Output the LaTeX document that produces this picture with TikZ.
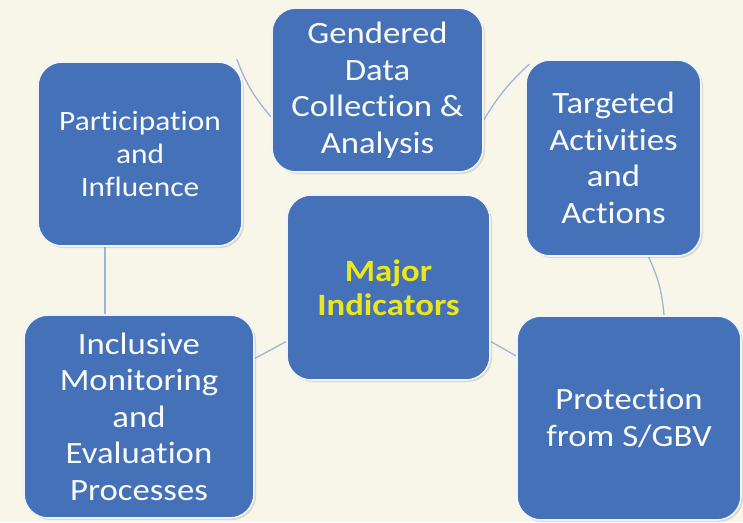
\documentclass[tikz,border=0pt]{standalone}
\usepackage{fontspec}
\setmainfont{Carlito}[Ligatures={NoCommon}, FakeStretch=1.12]
\usetikzlibrary{shadows,backgrounds}
\definecolor{bgcream}{RGB}{248,246,232}
\definecolor{boxblue}{RGB}{69,113,184}
\definecolor{connblue}{RGB}{158,180,216}
\definecolor{txtwhite}{RGB}{250,250,250}
\definecolor{majyellow}{RGB}{236,230,28}
\tikzset{
  box/.style={rectangle, rounded corners=24pt, fill=boxblue, draw=white!92!boxblue,
    line width=1.6pt, text=txtwhite, align=center,
    font=\fontsize{31pt}{36.5pt}\selectfont,
    drop shadow={shadow xshift=2pt, shadow yshift=-2pt, opacity=0.25}},
  conn/.style={draw=connblue, line width=1.3pt},
}
\begin{document}
\begin{tikzpicture}[x=1pt,y=-1pt]
\useasboundingbox (0,0) rectangle (743,522);
\node[box, minimum width=211pt, minimum height=164pt] (gen) at (377.5,90)
  {Gendered\\Data\\Collection \&\\Analysis};
\node[box, minimum width=204pt, minimum height=184pt,
  font=\fontsize{28pt}{33pt}\selectfont] (par) at (140,154)
  {Participation\\and\\Influence};
\node[box, minimum width=175pt, minimum height=196pt] (tar) at (613.5,158)
  {Targeted\\Activities\\and\\Actions};
\node[box, minimum width=203pt, minimum height=185pt, text=majyellow,
  font=\fontsize{31pt}{34pt}\selectfont\bfseries] (maj) at (388.5,287.5)
  {Major\\Indicators};
\node[box, minimum width=230pt, minimum height=203pt] (inc) at (139,416.5)
  {Inclusive\\Monitoring\\and\\Evaluation\\Processes};
\node[box, minimum width=224pt, minimum height=204pt] (pro) at (629,418)
  {Protection\\from S/GBV};
\begin{pgfonlayer}{background}
  \fill[bgcream] (0,0) rectangle (743,522);
  \draw[conn] ([xshift=-6pt,yshift=2pt]par.north east) to[bend right=10] ([yshift=-27pt]gen.west);
  \draw[conn] ([yshift=-30pt]gen.east) to[bend left=8] ([xshift=4pt,yshift=-5pt]tar.north west);
  \draw[conn] ([xshift=-35pt]par.south) -- ([xshift=-34pt]inc.north);
  \draw[conn] ([xshift=35pt]tar.south) to[bend left=10] ([xshift=35pt]pro.north);
  \draw[conn] ([yshift=-54pt]maj.west) -- ([yshift=58pt]inc.east);
  \draw[conn] ([yshift=-54pt]maj.east) -- ([yshift=62pt]pro.west);
\end{pgfonlayer}
\end{tikzpicture}
\end{document}
